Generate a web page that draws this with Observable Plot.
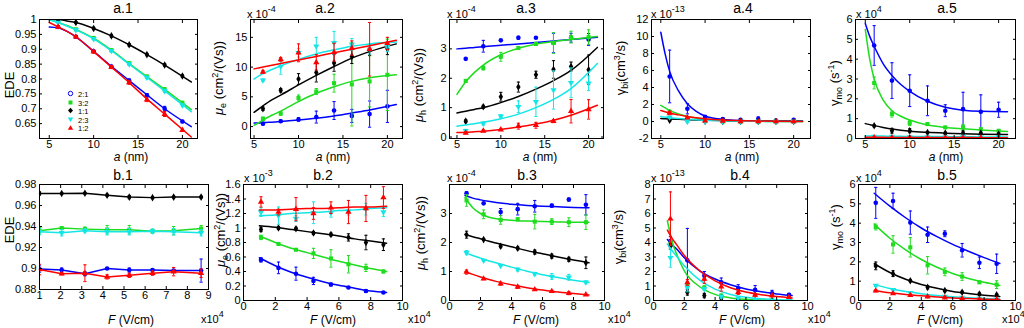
<!DOCTYPE html>
<html><head><meta charset="utf-8">
<script src="https://cdn.jsdelivr.net/npm/d3@7"></script>
<script src="https://cdn.jsdelivr.net/npm/@observablehq/plot@0.6"></script>
<style>
html,body{margin:0;padding:0;background:#fff;}
#root{position:relative;width:1024px;height:328px;overflow:hidden;font-family:"Liberation Sans",Arial,sans-serif;color:#000;}
.lab{position:absolute;white-space:nowrap;line-height:1;}
.title{font-size:14px;transform:translate(-50%,-50%);}
.xl{font-size:12px;transform:translate(-50%,-50%);}
.yl{font-size:13px;transform:translate(-50%,-50%) rotate(-90deg);}
.exp{font-size:11px;}
.exp sup{font-size:9px;vertical-align:6px;line-height:0;}
.xl sub,.yl sub{font-size:9px;vertical-align:-3px;line-height:0;}
.xl sup,.yl sup{font-size:9px;vertical-align:5px;line-height:0;}
.lab.leg{font-size:7.5px;line-height:7px;height:7px;}
.leg svg{display:inline-block;vertical-align:0;}
.plotbox{position:absolute;}
</style></head><body><div id="root"></div>
<script>
// ---------- series ----------
const seriesNames = ["2:1","3:2","1:1","2:3","1:2"];
const seriesColors = ["#0000ff","#1edc1e","#000000","#14e6e6","#ff0000"];
const seriesSymbols = ["circle","square","diamond","triangleDown","triangle"];

// ---------- x positions ----------
const xA = [6,8,10,12,14,16,18,20];
const xB = [1.1,2.2,3.3,4.4,5.5,6.6,7.7,8.8];
const xB1 = [1.0,2.05,3.15,4.2,5.25,6.35,7.35,8.65];
const fitXA = [5,6,7,8,10,12,14,16,18,21];
const fitXSteep = [5,5.5,6,7,8,9,10,12,14,16,18,21];
const fitXB = [1,2,3,4,5,6,7,8,9];
const fitXB3 = [1,1.5,2,2.5,3,4,5,6,7,8,9];
const fitXB4 = [0.9,1.2,1.5,2,3,4,5,6,7,8,9];

// ---------- tick values ----------
const rowAXTicks = [5,10,15,20];
const rowBXTicks = [0,2,4,6,8,10];
const b1XTicks = [1,2,3,4,5,6,7,8,9];
const a1YTicks = [0.65,0.7,0.75,0.8,0.85,0.9,0.95,1];
const a2YTicks = [0,5,10,15];
const a3YTicks = [0,1,2,3];
const a4YTicks = [-2,0,2,4,6,8,10,12];
const a5YTicks = [0,1,2,3,4,5,6];
const b1YTicks = [0.88,0.9,0.92,0.94,0.96,0.98];
const b2YTicks = [0,0.2,0.4,0.6,0.8,1,1.2,1.4,1.6];
const b3YTicks = [0,1,2,3];
const b4YTicks = [0,1,2,3,4,5,6,7,8];
const b5YTicks = [0,1,2,3,4,5,6];

// ---------- a.1 EDE vs a ----------
const a1Val = [
 [0.975,0.942,0.893,0.842,0.795,0.745,0.700,0.657],
 [0.995,0.967,0.938,0.897,0.853,0.808,0.765,0.720],
 [1.000,0.990,0.970,0.945,0.915,0.882,0.847,0.810],
 [0.990,0.965,0.935,0.895,0.850,0.805,0.760,0.712],
 [0.975,0.942,0.892,0.840,0.788,0.730,0.682,0.628]];
const a1Err = [
 [0.003,0.003,0.003,0.004,0.005,0.006,0.008,0.004],
 [0.003,0.003,0.004,0.004,0.004,0.005,0.006,0.005],
 [0.003,0.003,0.004,0.004,0.004,0.004,0.004,0.004],
 [0.003,0.003,0.003,0.004,0.004,0.004,0.005,0.004],
 [0.004,0.004,0.004,0.005,0.006,0.006,0.008,0.004]];
const a1Fit = [
 [0.975,0.972,0.960,0.942,0.893,0.843,0.795,0.747,0.700,0.640],
 [1.000,0.990,0.980,0.967,0.937,0.897,0.852,0.808,0.765,0.697],
 [1.000,1.000,0.995,0.990,0.970,0.945,0.915,0.882,0.847,0.790],
 [1.000,0.990,0.978,0.965,0.935,0.895,0.850,0.805,0.760,0.690],
 [0.990,0.975,0.960,0.942,0.892,0.840,0.788,0.733,0.682,0.605]];

// ---------- a.2 mu_e vs a (x1e-4) ----------
const a2Val = [
 [0.5,0.9,1.2,1.6,2.7,1.8,2.1,3.4],
 [1.3,2.2,4.8,5.9,7.3,7.1,7.6,8.7],
 [3.0,6.1,8.0,9.1,10.7,11.8,12.9,13.1],
 [7.8,10.1,12.4,13.5,14.1,13.8,13.0,13.4],
 [9.2,11.3,12.4,10.8,12.5,13.2,13.0,14.0]];
const a2Err = [
 [0.2,0.2,0.3,1.0,1.5,1.1,2.2,2.7],
 [0.3,0.3,0.5,0.5,1.5,7.0,4.3,6.0],
 [0.3,0.3,0.9,1.6,1.4,1.2,0.9,1.0],
 [0.2,1.3,0.7,1.5,1.9,1.0,0.8,0.8],
 [0.2,0.3,1.5,1.3,1.5,1.2,4.5,1.0]];
const a2Fit = [
 [0.6,0.65,0.75,0.85,1.1,1.4,1.8,2.3,2.8,3.7],
 [0.2,1.1,1.9,2.6,4.2,5.6,6.7,7.6,8.2,8.7],
 [2.4,3.5,4.5,5.3,7.0,8.6,10.1,11.5,12.6,13.9],
 [8.0,8.9,9.6,10.2,11.3,12.2,12.9,13.5,13.9,14.2],
 [9.7,10.0,10.3,10.6,11.2,11.8,12.4,13.0,13.6,14.5]];

// ---------- a.3 mu_h vs a (x1e-4) ----------
const a3Val = [
 [2.66,3.09,3.29,3.38,3.38,3.20,3.38,3.32],
 [1.91,2.35,2.73,3.03,3.17,3.20,3.40,3.40],
 [0.54,1.03,1.37,1.70,2.12,2.30,2.40,2.29],
 [0.21,0.46,0.71,1.03,1.20,1.60,1.85,1.83],
 [0.14,0.21,0.25,0.37,0.40,0.54,0.88,0.94]];
const a3Err = [
 [0,0.2,0,0.05,0,0.33,0.15,0.2],
 [0.05,0.07,0.15,0.05,0.05,0.35,0.2,0.25],
 [0.05,0.05,0.15,0.17,0.12,0.3,0.15,0.5],
 [0.05,0.05,0.05,0.2,0.5,0.65,0.5,0.25],
 [0.03,0.03,0.03,0.1,0.1,0.05,0.4,0.33]];
const a3Fit = [
 [3.0,3.02,3.05,3.07,3.12,3.17,3.22,3.27,3.32,3.4],
 [1.45,1.88,2.2,2.45,2.8,3.02,3.16,3.25,3.32,3.42],
 [0.82,0.88,0.94,1.0,1.17,1.38,1.63,1.92,2.27,3.05],
 [0.37,0.41,0.45,0.5,0.62,0.78,1.0,1.28,1.65,2.5],
 [0.15,0.16,0.18,0.2,0.26,0.34,0.44,0.57,0.74,1.08]];

// ---------- a.4 gamma_bi vs a (x1e-13) ----------
const a4Val = [
 [5.3,1.5,0.55,0.3,0.2,0.3,0.12,0.2],
 [1.1,0.3,0.05,0,0,0,0,0],
 [0.15,0.1,0.02,0,0,0,0,0],
 [0.5,0,0,0,0,0,0,0],
 [1.0,0.45,0.1,0.05,0,0,0,0]];
const a4Err = [
 [3.1,0.6,0.15,0.1,0.05,0.25,0.05,0.1],
 [0.25,0.1,0,0,0,0,0,0],
 [0.1,0,0,0,0,0,0,0],
 [0.1,0.1,0,0,0,0,0,0],
 [0.2,0.1,0,0,0,0,0,0]];
const a4Fit = [
 [10.5,7.9,5.9,3.6,2.1,1.2,0.65,0.25,0.12,0.08,0.06,0.05],
 [1.9,1.6,1.3,0.9,0.6,0.4,0.25,0.1,0.05,0.02,0.01,0],
 [0.35,0.32,0.3,0.26,0.22,0.19,0.16,0.11,0.07,0.05,0.03,0.02],
 [0.6,0.52,0.45,0.35,0.27,0.2,0.15,0.08,0.04,0.02,0.01,0],
 [1.3,1.15,1.0,0.78,0.6,0.45,0.33,0.18,0.1,0.05,0.03,0.01]];

// ---------- a.5 gamma_mo vs a (x1e4) ----------
const a5Val = [
 [4.69,2.92,2.41,1.90,1.40,1.48,1.35,1.45],
 [2.80,1.23,0.78,0.73,0.56,0.56,0.47,0.39],
 [0.64,0.39,0.39,0.30,0.27,0.27,0.27,0.22],
 [0.10,0.10,0.08,0.08,0.08,0.10,0.08,0.08],
 [0.05,0.05,0.05,0.04,0.04,0.04,0.04,0.04]];
const a5Err = [
 [1.0,0.9,0.8,0.75,0.3,0.85,0.85,0.38],
 [0.3,0.15,0.12,0.05,0.05,0.15,0.05,0.05],
 [0.05,0.12,0.1,0.05,0.05,0.1,0.05,0.05],
 [0.02,0.02,0.02,0.02,0.02,0.02,0.02,0.02],
 [0.02,0.02,0.02,0.02,0.02,0.02,0.02,0.02]];
const a5Fit = [
 [5.8,5.15,4.65,3.78,3.18,2.72,2.38,1.88,1.58,1.43,1.37,1.35],
 [5.5,4.0,3.0,1.95,1.4,1.12,0.93,0.68,0.56,0.49,0.43,0.35],
 [0.75,0.7,0.65,0.56,0.48,0.42,0.37,0.31,0.27,0.24,0.22,0.2],
 [0.13,0.13,0.12,0.12,0.11,0.11,0.1,0.1,0.09,0.09,0.08,0.08],
 [0.06,0.06,0.06,0.06,0.05,0.05,0.05,0.05,0.05,0.05,0.04,0.04]];

// ---------- b.1 EDE vs F ----------
const b1Val = [
 [0.8995,0.8985,0.8950,0.9000,0.8985,0.8985,0.8980,0.8980],
 [0.9360,0.9385,0.9375,0.9370,0.9370,0.9355,0.9360,0.9380],
 [0.9715,0.9715,0.9716,0.9698,0.9680,0.9675,0.9680,0.9680],
 [0.9350,0.9340,0.9360,0.9350,0.9350,0.9355,0.9350,0.9340],
 [0.8990,0.8950,0.8955,0.8920,0.8935,0.8955,0.8970,0.8955]];
const b1Err = [
 [0.003,0.002,0.002,0.0005,0.002,0.001,0.001,0.011],
 [0.003,0.001,0.002,0.004,0.004,0.002,0.004,0.003],
 [0.0015,0.0005,0.0005,0.001,0.0015,0.001,0.001,0.001],
 [0.003,0.003,0.002,0.003,0.003,0.002,0.003,0.003],
 [0.005,0.001,0.008,0.002,0.002,0.002,0.004,0.004]];

// ---------- b.2 mu_e vs F (x1e-3) ----------
const b2Val = [
 [0.56,0.45,0.37,0.27,0.22,0.18,0.13,0.11],
 [0.87,0.78,0.70,0.65,0.58,0.50,0.45,0.40],
 [0.98,1.00,0.99,0.93,0.91,0.87,0.80,0.77],
 [1.22,1.17,1.13,1.21,1.21,1.23,1.26,1.22],
 [1.36,1.22,1.26,1.20,1.28,1.22,1.27,1.42]];
const b2Err = [
 [0.03,0.08,0.09,0.05,0.02,0.01,0.02,0.01],
 [0.03,0.01,0.01,0.07,0.12,0.12,0.05,0.02],
 [0.03,0.02,0.02,0.02,0.02,0.05,0.10,0.08],
 [0.06,0.12,0.04,0.15,0.06,0.05,0.08,0.06],
 [0.07,0.04,0.16,0.08,0.08,0.16,0.18,0.15]];
const b2Fit = [
 [0.59,0.48,0.39,0.32,0.26,0.21,0.17,0.13,0.11],
 [0.89,0.80,0.72,0.66,0.60,0.54,0.49,0.44,0.40],
 [1.03,1.01,0.98,0.95,0.92,0.89,0.85,0.82,0.79],
 [1.17,1.18,1.20,1.21,1.22,1.24,1.25,1.27,1.28],
 [1.25,1.25,1.26,1.27,1.27,1.28,1.29,1.29,1.30]];

// ---------- b.3 mu_h vs F (x1e-4) ----------
const b3Val = [
 [3.70,3.35,3.05,3.15,3.25,3.27,3.48,3.30],
 [3.45,2.97,2.78,2.80,2.72,2.72,2.70,2.70],
 [2.27,2.10,1.87,1.80,1.67,1.53,1.42,1.30],
 [1.65,1.38,1.20,1.07,0.92,0.83,0.80,0.63],
 [0.98,0.75,0.58,0.47,0.38,0.32,0.25,0.20]];
const b3Err = [
 [0.05,0.03,0.12,0.2,0.2,0.05,0.05,0.35],
 [0.2,0.15,0.15,0.05,0.25,0.1,0.15,0.25],
 [0.12,0.03,0.05,0.05,0.07,0.07,0.07,0.2],
 [0.07,0.02,0.02,0.05,0.05,0.1,0.1,0.05],
 [0.07,0.03,0.05,0.05,0.02,0.02,0.05,0.02]];
const b3Fit = [
 [3.62,3.53,3.47,3.42,3.38,3.32,3.28,3.25,3.23,3.21,3.2],
 [3.55,3.2,3.0,2.88,2.82,2.77,2.74,2.72,2.71,2.7,2.7],
 [2.28,2.2,2.13,2.05,1.98,1.85,1.72,1.61,1.5,1.4,1.3],
 [1.65,1.55,1.46,1.37,1.3,1.15,1.01,0.89,0.79,0.7,0.62],
 [1.0,0.9,0.81,0.73,0.66,0.54,0.44,0.36,0.29,0.24,0.19]];

// ---------- b.4 gamma_bi vs F (x1e-13) ----------
const b4Val = [
 [4.10,2.77,1.70,1.25,0.84,0.73,0.50,0.39],
 [3.90,1.07,0.90,0.34,0.05,0,0,0],
 [3.75,0.57,0.34,0.18,0.05,0,0,0],
 [2.95,0.90,0.80,0.27,0.16,0.05,0,0],
 [5.64,1.25,1.48,0.95,0.57,0.39,0.34,0.23]];
const b4Err = [
 [0.3,2.2,0.3,0.3,0.25,0.3,0.2,0.1],
 [0.2,0.2,0.1,0.1,0.05,0,0,0],
 [0.2,0.2,0.15,0.1,0.05,0,0,0],
 [0.65,0.3,0.1,0.1,0.05,0,0,0],
 [1.85,0.2,0.3,0.3,0.15,0.1,0.1,0.05]];
const b4Fit = [
 [4.2,3.85,3.55,2.95,2.05,1.48,1.09,0.8,0.61,0.45,0.34],
 [5.5,4.1,3.2,2.05,0.95,0.42,0.18,0.08,0.03,0.01,0],
 null,
 [3.9,3.45,3.05,2.4,1.4,0.78,0.42,0.22,0.12,0.06,0.03],
 [4.85,4.3,3.85,3.1,2.05,1.35,0.88,0.58,0.4,0.27,0.18]];

// ---------- b.5 gamma_mo vs F (x1e4) ----------
const b5Val = [
 [5.05,5.15,4.03,3.40,3.45,2.60,1.95,1.90],
 [3.80,2.90,2.75,1.82,1.48,1.24,0.94,0.82],
 [1.79,1.39,1.02,0.68,0.51,0.43,0.34,0.29],
 [0.78,0.55,0.40,0.25,0.20,0.15,0.10,0.06],
 [0.50,0.36,0.27,0.20,0.15,0.10,0.06,0.05]];
const b5Err = [
 [0.8,0.4,0.6,0.4,0.15,0.35,0.3,0.5],
 [0.15,0.45,0.5,0.45,0.2,0.2,0.05,0.2],
 [0.2,0.15,0.05,0.08,0.05,0.05,0.05,0.05],
 [0.05,0.05,0.03,0.03,0.03,0.03,0.03,0.03],
 [0.05,0.03,0.03,0.03,0.03,0.03,0.03,0.03]];
const b5Fit = [
 [5.55,4.88,4.28,3.75,3.3,2.9,2.55,2.22,1.92],
 [3.95,3.22,2.62,2.12,1.72,1.4,1.14,0.94,0.78],
 [1.9,1.45,1.1,0.83,0.63,0.47,0.36,0.27,0.21],
 [0.82,0.62,0.46,0.35,0.26,0.19,0.14,0.1,0.07],
 [0.52,0.4,0.31,0.24,0.18,0.13,0.1,0.07,0.05]];

// ---------- symbols ----------
const sqrt3 = Math.sqrt(3);
const customSymbols = {
  triangleDown: {draw(c, size){ const y = -Math.sqrt(size/(sqrt3*3)); c.moveTo(0,-y*2); c.lineTo(-sqrt3*y, y); c.lineTo(sqrt3*y, y); c.closePath(); }},
  cap: {draw(c, size){ const r = Math.sqrt(size/Math.PI); c.moveTo(-r,0); c.lineTo(r,0); }}
};
const sym = (n) => customSymbols[n] || n;
const fmt = d => String(+(+d).toFixed(3));

// ---------- panel layout ----------
const panels = [
 {L:39,R:197,T:19,B:138,xd:[3.9,21.7],yd:[0.6,1.0],xt:rowAXTicks,yt:a1YTicks,xs:xA,v:a1Val,e:a1Err,fx:fitXA,f:a1Fit},
 {L:250,R:402,T:19,B:138,xd:[4.6,21.7],yd:[-2,18],xt:rowAXTicks,yt:a2YTicks,xs:xA,v:a2Val,e:a2Err,fx:fitXA,f:a2Fit},
 {L:449,R:603,T:19,B:138,xd:[4.15,21.7],yd:[-0.05,4],xt:rowAXTicks,yt:a3YTicks,xs:xA,v:a3Val,e:a3Err,fx:fitXA,f:a3Fit},
 {L:651,R:810,T:19,B:138,xd:[3.95,21.9],yd:[-2,12],xt:rowAXTicks,yt:a4YTicks,xs:xA,v:a4Val,e:a4Err,fx:fitXSteep,f:a4Fit},
 {L:855,R:1015,T:19,B:138,xd:[3.9,21.9],yd:[0,6],xt:rowAXTicks,yt:a5YTicks,xs:xA,v:a5Val,e:a5Err,fx:fitXSteep,f:a5Fit},
 {L:39,R:208,T:184,B:289,xd:[1,9],yd:[0.88,0.98],xt:b1XTicks,yt:b1YTicks,xs:xB1,v:b1Val,e:b1Err,connect:true},
 {L:243,R:402,T:184,B:300,xd:[0,10],yd:[0,1.6],xt:rowBXTicks,yt:b2YTicks,xs:xB,v:b2Val,e:b2Err,fx:fitXB,f:b2Fit},
 {L:449,R:604,T:184,B:300,xd:[0,10],yd:[0,4],xt:rowBXTicks,yt:b3YTicks,xs:xB,v:b3Val,e:b3Err,fx:fitXB3,f:b3Fit},
 {L:653,R:807,T:184,B:300,xd:[0,10],yd:[0,8],xt:rowBXTicks,yt:b4YTicks,xs:xB,v:b4Val,e:b4Err,fx:fitXB4,f:b4Fit},
 {L:858,R:1015,T:184,B:300,xd:[0,10],yd:[0,6],xt:rowBXTicks,yt:b5YTicks,xs:xB,v:b5Val,e:b5Err,fx:fitXB,f:b5Fit}
];

const root = document.getElementById("root");
const mL = 34, mR = 6, mT = 6, mB = 18;

panels.forEach(p => {
  const marks = [];
  seriesNames.forEach((name, i) => {
    const color = seriesColors[i];
    const pts = p.xs.map((x, j) => ({x, y: p.v[i][j], e: p.e[i][j]}));
    if (p.f && p.f[i]) {
      const fit = p.fx.map((x, j) => ({x, y: p.f[i][j]}));
      marks.push(Plot.line(fit, {x: "x", y: "y", stroke: color, strokeWidth: 1.5, curve: "monotone-x", clip: true}));
    }
    if (p.connect) marks.push(Plot.line(pts, {x: "x", y: "y", stroke: color, strokeWidth: 1.5}));
    const ep = pts.filter(d => d.e > 0);
    marks.push(Plot.ruleX(ep, {x: "x", y1: d => d.y - d.e, y2: d => d.y + d.e, stroke: color, strokeWidth: 1, clip: true}));
    marks.push(Plot.dot(ep, {x: "x", y: d => d.y - d.e, symbol: customSymbols.cap, r: 1.6, fill: "none", stroke: color, strokeWidth: 1, clip: true}));
    marks.push(Plot.dot(ep, {x: "x", y: d => d.y + d.e, symbol: customSymbols.cap, r: 1.6, fill: "none", stroke: color, strokeWidth: 1, clip: true}));
    marks.push(Plot.dot(pts, {x: "x", y: "y", symbol: sym(seriesSymbols[i]), r: 2.3, fill: color, stroke: "none", clip: true}));
  });
  marks.push(Plot.axisX({ticks: p.xt, tickFormat: fmt, tickSize: -3, tickPadding: 5, label: null}));
  marks.push(Plot.axisX({anchor: "top", ticks: p.xt, tickFormat: () => "", tickSize: -3, label: null}));
  marks.push(Plot.axisY({ticks: p.yt, tickFormat: fmt, tickSize: -3, tickPadding: 6, label: null}));
  marks.push(Plot.axisY({anchor: "right", ticks: p.yt, tickFormat: () => "", tickSize: -3, label: null}));
  marks.push(Plot.frame({stroke: "#000", strokeWidth: 1}));
  const chart = Plot.plot({
    width: p.R - p.L + mL + mR,
    height: p.B - p.T + mT + mB,
    marginLeft: mL, marginRight: mR, marginTop: mT, marginBottom: mB,
    x: {domain: p.xd},
    y: {domain: p.yd},
    style: {fontFamily: "'Liberation Sans', Arial, sans-serif", fontSize: "11px", background: "transparent", overflow: "visible", maxWidth: "none"},
    marks
  });
  const box = document.createElement("div");
  box.className = "plotbox";
  box.style.left = (p.L - mL) + "px";
  box.style.top = (p.T - mT) + "px";
  box.appendChild(chart);
  root.appendChild(box);
});

// ---------- texts ----------
function addLabel(cls, html, x, y) {
  const d = document.createElement("div");
  d.className = "lab " + cls;
  d.innerHTML = html;
  d.style.left = x + "px";
  d.style.top = y + "px";
  root.appendChild(d);
}
const titles = [["a.1",123,8],["a.2",325,8],["a.3",526,8],["a.4",743,8],["a.5",947,8],
                ["b.1",123,175],["b.2",323,175],["b.3",527,175],["b.4",740,175],["b.5",947,175]];
titles.forEach(([t,x,y]) => addLabel("title", t, x, y));

const xLab = "<i>a</i> (nm)", fLab = "<i>F</i> (V/cm)";
[[xLab,131,157],[xLab,333,157],[xLab,540,157],[xLab,742,157],[xLab,946,157],
 [fLab,131,320],[fLab,333,320],[fLab,536,320],[fLab,742,320],[fLab,940,320]]
 .forEach(([t,x,y]) => addLabel("xl", t, x, y));

const mue = "<i>μ</i><sub>e</sub> (cm<sup>2</sup>/(Vs))";
const muh = "<i>μ</i><sub>h</sub> (cm<sup>2</sup>/(Vs))";
const gbi = "γ<sub>bi</sub>(cm<sup>3</sup>/s)";
const gmo = "γ<sub>mo</sub> (s<sup>-1</sup>)";
[["EDE",9,85],[mue,218,78],[muh,418,85],[gbi,620,68],[gmo,834,83],
 ["EDE",9,230],[mue,220,230],[muh,420,233],[gbi,618,237],[gmo,835,227]]
 .forEach(([t,x,y]) => addLabel("yl", t, x, y));

const exps = [["-4",247,9],["-4",447,9],["-13",651,9],["4",856,9],
              ["-3",244,173],["-4",447,173],["-13",651,173],["4",856,173]];
exps.forEach(([e,x,y]) => addLabel("exp", "x 10<sup>" + e + "</sup>", x, y));
[201,408,608,808,1002].forEach(x => addLabel("exp", "x10<sup>4</sup>", x, 314));

// ---------- legend (a.1) ----------
const legendSvg = (i) => {
  const c = seriesColors[i];
  const s = seriesSymbols[i];
  let shape;
  if (s === "circle") shape = `<circle cx="3.5" cy="3.5" r="2.2" fill="none" stroke="${c}" stroke-width="1"/>`;
  else if (s === "square") shape = `<rect x="1.5" y="1.5" width="4" height="4" fill="${c}"/>`;
  else if (s === "diamond") shape = `<path d="M3.5,0.8L6,3.5L3.5,6.2L1,3.5Z" fill="${c}"/>`;
  else if (s === "triangleDown") shape = `<path d="M0.8,1.5L6.2,1.5L3.5,6Z" fill="${c}"/>`;
  else shape = `<path d="M0.8,5.8L6.2,5.8L3.5,1.2Z" fill="${c}"/>`;
  return `<svg width="7" height="7" style="margin-right:4px">${shape}</svg>`;
};
seriesNames.forEach((n, i) => addLabel("leg", legendSvg(i) + n, 67, 90 + i * 8.6));
</script></body></html>
